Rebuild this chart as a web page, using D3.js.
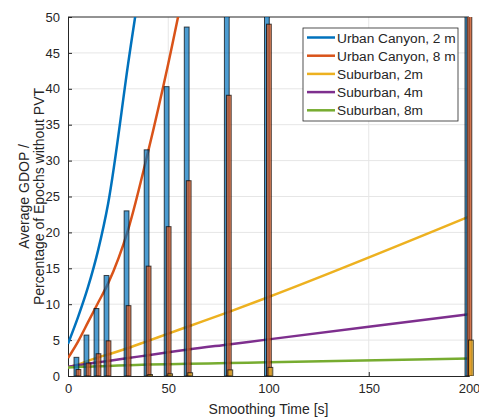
<!DOCTYPE html>
<html lang="en">

<head>
	<meta charset="UTF-8">
	<title>GDOP vs Smoothing Time</title>
	<script src="https://d3js.org/d3.v7.min.js"></script>
	<style>
		body {
			margin: 0;
			background: #fff;
		}

		text {
			font-family: "Liberation Sans", Arial, sans-serif;
			fill: #262626;
		}

		.grid line {
			stroke: #e6e6e6;
		}

		.axis path,
		.axis line {
			stroke: #262626;
		}
	</style>
</head>

<body>
	<script>
		const width = 479;
		const height = 418;
		const margin = { top: 17, right: 10, bottom: 42, left: 68 };

		// line data: smoothing time vs average GDOP
		const lineTimes = [0, 5, 10, 15, 20, 30, 40, 50, 60, 80, 100, 200];
		const urban2m = [4.5, 8.2, 12.4, 17.5, 24, 43.5, 63, 90, 120, 180, 240, 500];
		const urban8m = [2.5, 4.8, 7.5, 10.2, 12.9, 20.4, 31.3, 43.5, 57, 85, 115, 260];
		const suburban2m = [1.2, 1.6, 2.1, 2.6, 3.0, 3.9, 4.9, 5.9, 6.9, 8.9, 11.0, 22.2];
		const suburban4m = [1.3, 1.5, 1.7, 1.9, 2.1, 2.5, 2.9, 3.3, 3.7, 4.4, 5.1, 8.6];
		const suburban8m = [1.2, 1.25, 1.3, 1.35, 1.4, 1.5, 1.6, 1.65, 1.7, 1.8, 1.9, 2.45];

		// bar data: percentage of epochs without PVT
		const barTimes = [5, 10, 15, 20, 30, 40, 50, 60, 80, 100, 200];
		const barUrban2m = [2.6, 5.7, 9.4, 14.0, 23.0, 31.5, 40.3, 48.6, 60, 55, 80];
		const barUrban8m = [0.9, 1.8, 3.1, 4.9, 9.8, 15.3, 20.8, 27.2, 39.1, 49.0, 70];
		const barSuburban2m = [0, 0, 0, 0, 0, 0.2, 0.3, 0.45, 0.85, 1.2, 5.0];

		const xTicks = [0, 50, 100, 150, 200];
		const yTicks = [0, 5, 10, 15, 20, 25, 30, 35, 40, 45, 50];

		const names = ["Urban Canyon, 2 m", "Urban Canyon, 8 m", "Suburban, 2m", "Suburban, 4m", "Suburban, 8m"];
		const colors = ["#0072BD", "#D95319", "#EDB120", "#7E2F8E", "#77AC30"];

		const svg = d3.select("body").append("svg")
			.attr("width", width)
			.attr("height", height);

		const x = d3.scaleLinear().domain([0, 200]).range([margin.left, width - margin.right]);
		const y = d3.scaleLinear().domain([0, 50]).range([height - margin.bottom, margin.top]);

		// clip only vertically, the bars at 200 stick out to the right
		svg.append("defs").append("clipPath").attr("id", "clip")
			.append("rect")
			.attr("x", margin.left).attr("y", margin.top)
			.attr("width", width - margin.left).attr("height", y(0) - y(50));

		// grid
		svg.append("g").attr("class", "grid")
			.selectAll("line.h").data(yTicks.slice(1, -1)).enter().append("line")
			.attr("x1", x(0)).attr("x2", x(200))
			.attr("y1", d => y(d)).attr("y2", d => y(d));
		svg.append("g").attr("class", "grid")
			.selectAll("line.v").data(xTicks.slice(1, -1)).enter().append("line")
			.attr("y1", y(0)).attr("y2", y(50))
			.attr("x1", d => x(d)).attr("x2", d => x(d));

		// axes
		svg.append("g").attr("class", "axis")
			.attr("transform", `translate(0,${y(0)})`)
			.call(d3.axisBottom(x).tickValues(xTicks).tickSize(-4).tickPadding(8))
			.call(g => g.selectAll("text").style("font-size", "13px"));

		svg.append("g").attr("class", "axis")
			.attr("transform", `translate(${x(0)},0)`)
			.call(d3.axisLeft(y).tickValues(yTicks).tickSize(-4).tickPadding(8))
			.call(g => g.selectAll("text").style("font-size", "13px"));

		// box top and right
		svg.append("line").attr("x1", x(0)).attr("x2", x(200)).attr("y1", y(50)).attr("y2", y(50))
			.attr("stroke", "#262626");
		svg.append("line").attr("x1", x(200)).attr("x2", x(200)).attr("y1", y(50)).attr("y2", y(0))
			.attr("stroke", "#262626");

		const plot = svg.append("g").attr("clip-path", "url(#clip)");

		// lines
		const seriesLines = [urban2m, urban8m, suburban2m, suburban4m, suburban8m];
		const line = d3.line()
			.x((d, i) => x(lineTimes[i]))
			.y(d => y(d))
			.curve(d3.curveMonotoneX);

		plot.selectAll("path.series").data(seriesLines).enter().append("path")
			.attr("class", "series")
			.attr("d", line)
			.attr("fill", "none")
			.attr("stroke", (d, i) => colors[i])
			.attr("stroke-width", 2.5);

		// bars
		const barSeries = [barUrban2m, barUrban8m, barSuburban2m];
		const offsets = [-1.6, 0.4, 1.9];
		const barW = 4.8;

		barSeries.forEach((vals, s) => {
			plot.append("g").selectAll("rect").data(vals).enter().append("rect")
				.attr("x", (d, i) => x(barTimes[i]) + offsets[s] - barW / 2)
				.attr("width", barW)
				.attr("y", d => y(d))
				.attr("height", d => y(0) - y(d))
				.attr("fill", colors[s])
				.attr("fill-opacity", 0.7)
				.attr("stroke", "#000")
				.attr("stroke-opacity", 0.7)
				.attr("stroke-width", 1);
		});

		// axis labels
		svg.append("text")
			.attr("x", (x(0) + x(200)) / 2)
			.attr("y", 414)
			.attr("text-anchor", "middle")
			.style("font-size", "14px")
			.text("Smoothing Time [s]");

		const yl = svg.append("text")
			.attr("transform", `translate(29,${(y(0) + y(50)) / 2}) rotate(-90)`)
			.attr("text-anchor", "middle")
			.style("font-size", "14px");
		yl.append("tspan").attr("x", 0).attr("dy", 0).text("Average GDOP /");
		yl.append("tspan").attr("x", 0).attr("dy", 14.5).text("Percentage of Epochs without PVT");

		// legend
		const legend = svg.append("g");
		legend.append("rect")
			.attr("x", 303).attr("y", 28)
			.attr("width", 155).attr("height", 93)
			.attr("fill", "#fff")
			.attr("stroke", "#262626")
			.attr("stroke-width", 0.8);

		names.forEach((n, i) => {
			const ly = 37.5 + i * 18.2;
			legend.append("line")
				.attr("x1", 307).attr("x2", 335)
				.attr("y1", ly).attr("y2", ly)
				.attr("stroke", colors[i])
				.attr("stroke-width", 2.5);
			legend.append("text")
				.attr("x", 337).attr("y", ly + 5)
				.style("font-size", "13.7px")
				.text(n);
		});
	</script>
</body>

</html>
